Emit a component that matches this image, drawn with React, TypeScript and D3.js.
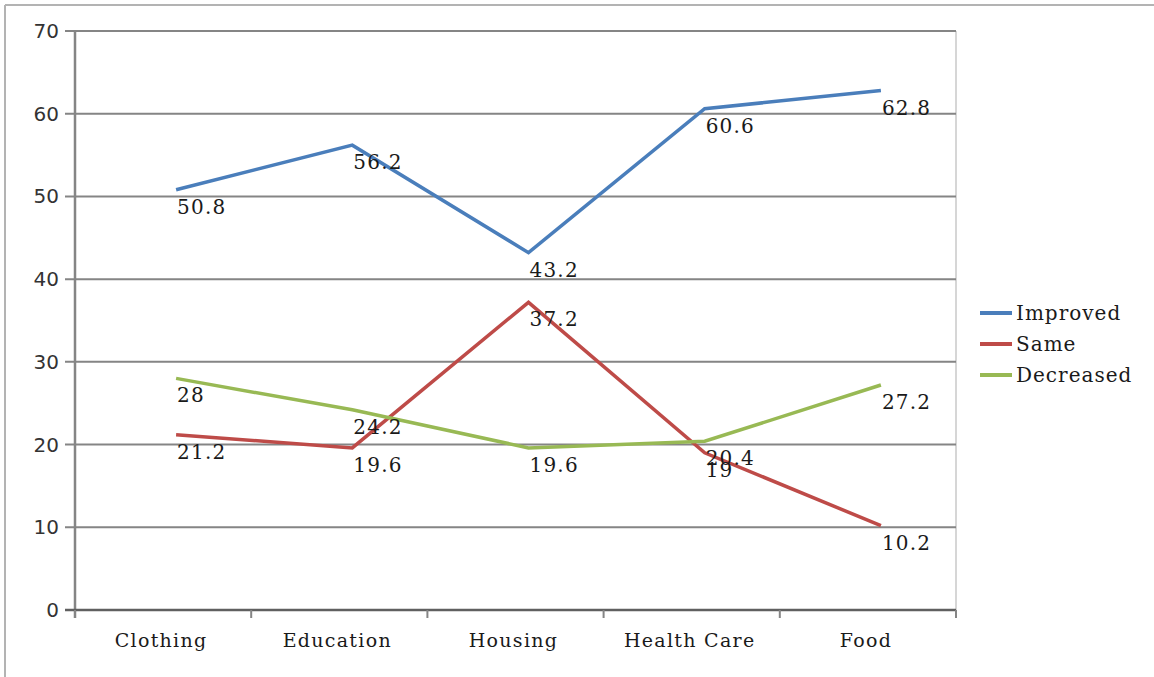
import React from "react";
import * as d3 from "d3";

const categories = ["Clothing", "Education", "Housing", "Health Care", "Food"];
const improved = [50.8, 56.2, 43.2, 60.6, 62.8];
const same = [21.2, 19.6, 37.2, 19, 10.2];
const decreased = [28, 24.2, 19.6, 20.4, 27.2];
const yTicks = [0, 10, 20, 30, 40, 50, 60, 70];

const seriesList = [
  { name: "Improved", values: improved, color: "#4a7ebb" },
  { name: "Same", values: same, color: "#be4b48" },
  { name: "Decreased", values: decreased, color: "#98b954" },
];

const W = 1154;
const H = 677;
const plot = { left: 75, right: 956, top: 31, bottom: 610 };
const serif = "'DejaVu Serif', serif";
const sans = "'DejaVu Sans', sans-serif";
const ink = "#1a1a1a";

export default function App() {
  const x = d3
    .scaleBand<string>()
    .domain(categories)
    .range([plot.left, plot.right])
    .padding(0);
  const y = d3.scaleLinear().domain([0, 70]).range([plot.bottom, plot.top]);
  const px = (c: string) => (x(c) as number) + x.bandwidth() / 2 + 13;

  const line = d3
    .line<number>()
    .x((_, i) => px(categories[i]))
    .y((v) => y(v));

  const boundaries = [...categories.map((c) => x(c) as number), plot.right];

  return (
    <svg
      width={W}
      height={H}
      style={{ position: "absolute", left: 0, top: 0, background: "#fff" }}
    >
      {/* frame */}
      <line x1={5} y1={5} x2={W} y2={5} stroke="#b3b3b3" strokeWidth={2} />
      <line x1={5} y1={5} x2={5} y2={H} stroke="#b3b3b3" strokeWidth={2} />

      {/* plot right edge */}
      <line x1={plot.right} y1={plot.top} x2={plot.right} y2={plot.bottom} stroke="#c8c8c8" strokeWidth={1.5} />

      {/* gridlines + y ticks */}
      {yTicks.map((t) => (
        <g key={t}>
          <line x1={65} x2={plot.right} y1={y(t)} y2={y(t)} stroke="#858585" strokeWidth={2} />
          <text
            x={59}
            y={y(t)}
            dy="0.35em"
            textAnchor="end"
            fontFamily={sans}
            fontSize={20}
            fill="#333"
          >
            {t}
          </text>
        </g>
      ))}

      {/* y axis */}
      <line x1={plot.left} x2={plot.left} y1={plot.top} y2={plot.bottom + 8} stroke="#858585" strokeWidth={2.5} />

      {/* x axis */}
      <line x1={65} x2={plot.right} y1={plot.bottom} y2={plot.bottom} stroke="#606060" strokeWidth={2.5} />
      {boundaries.map((b, i) => (
        <line key={i} x1={b} x2={b} y1={plot.bottom} y2={plot.bottom + 8} stroke="#858585" strokeWidth={2} />
      ))}
      {categories.map((c) => (
        <text
          key={c}
          x={(x(c) as number) + x.bandwidth() / 2 - 2}
          y={plot.bottom + 30}
          dy="0.35em"
          textAnchor="middle"
          fontFamily={serif}
          fontSize={19}
          letterSpacing={1.3}
          fill={ink}
        >
          {c}
        </text>
      ))}

      {/* series lines */}
      {seriesList.map((s) => (
        <path
          key={s.name}
          d={line(s.values) || ""}
          fill="none"
          stroke={s.color}
          strokeWidth={3.5}
          strokeLinejoin="miter"
        />
      ))}

      {/* data labels */}
      {seriesList.map((s) =>
        s.values.map((v, i) => (
          <text
            key={s.name + i}
            x={px(categories[i]) + 1}
            y={y(v) + 17}
            dy="0.35em"
            fontFamily={serif}
            fontSize={20}
            letterSpacing={1.2}
            fill={ink}
          >
            {v}
          </text>
        ))
      )}

      {/* legend */}
      {seriesList.map((s, i) => (
        <g key={s.name} transform={`translate(980, ${313 + i * 31})`}>
          <line x1={0} x2={32} y1={0} y2={0} stroke={s.color} strokeWidth={4} />
          <text x={36} y={0} dy="0.35em" fontFamily={serif} fontSize={20} letterSpacing={1} fill={ink}>
            {s.name}
          </text>
        </g>
      ))}
    </svg>
  );
}
